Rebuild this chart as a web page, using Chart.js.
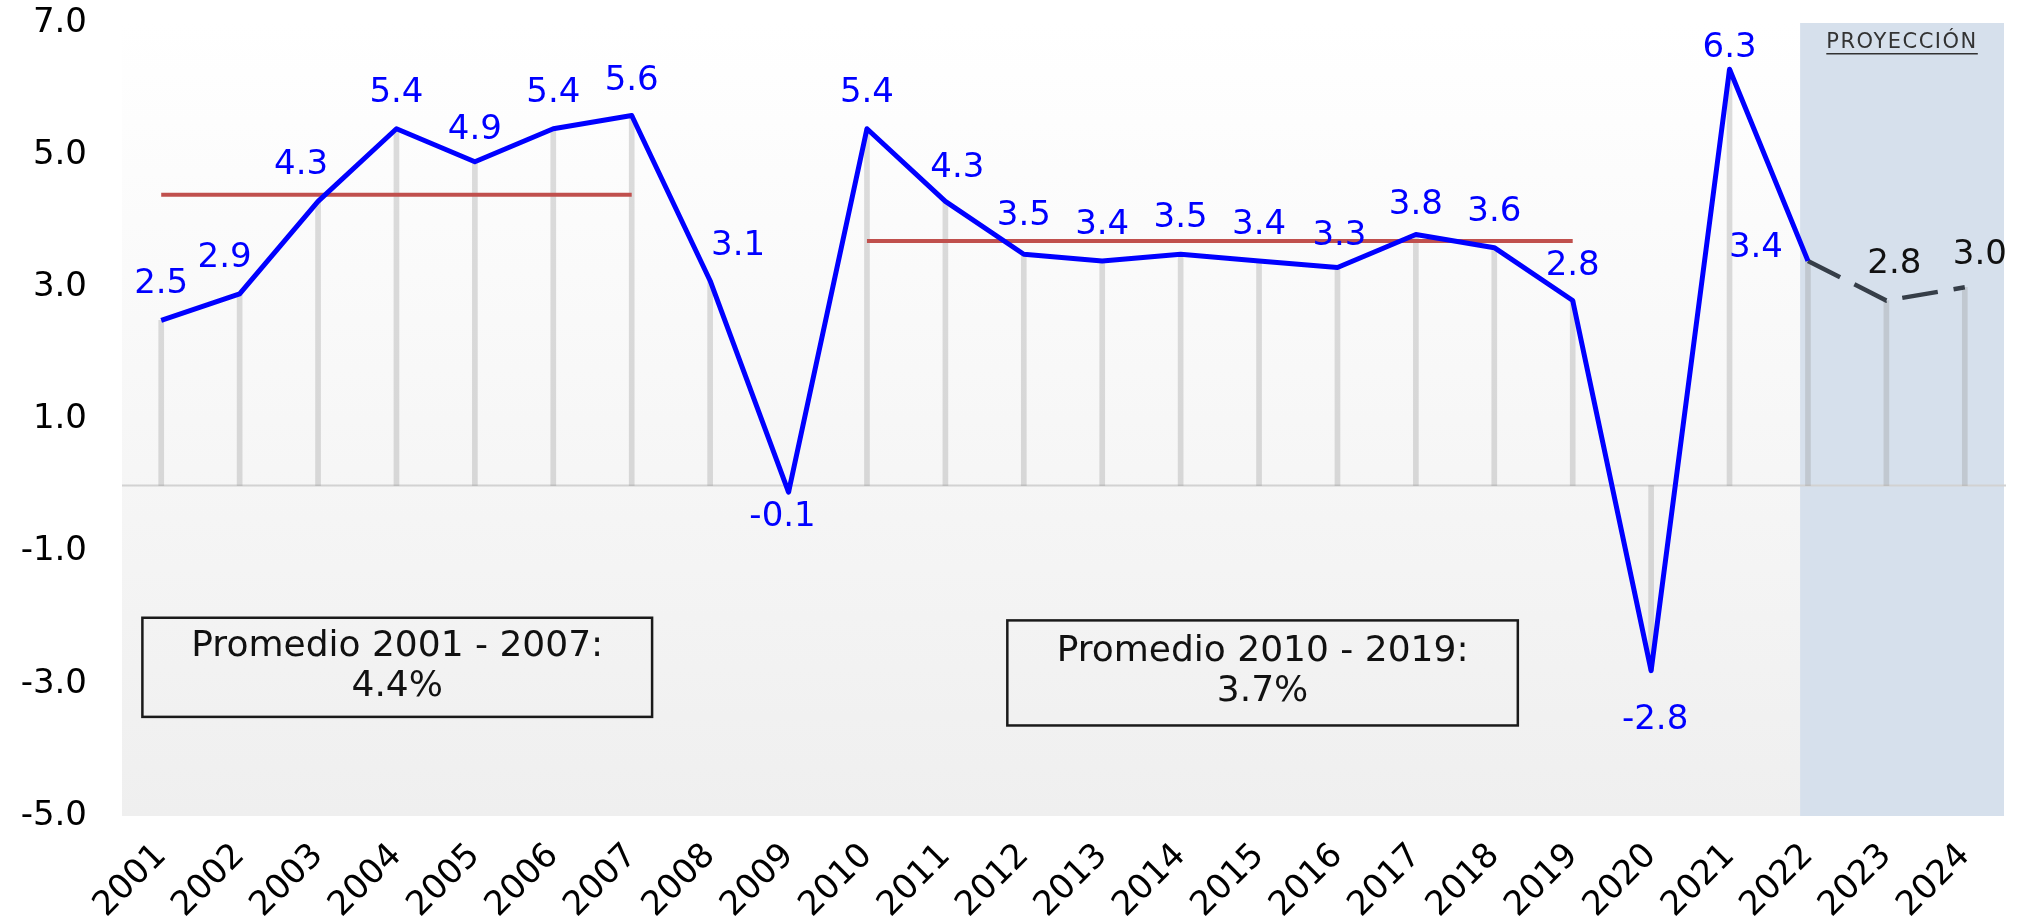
<!DOCTYPE html>
<html lang="es">
<head>
<meta charset="utf-8">
<title>Crecimiento anual</title>
<script src="https://cdn.jsdelivr.net/npm/chart.js@4.4.1/dist/chart.umd.min.js"></script>
<style>
  html, body { margin: 0; padding: 0; background: #fff; }
  #wrap { width: 2018px; height: 918px; }
</style>
</head>
<body>
<div id="wrap"><canvas id="chart" width="2018" height="918"></canvas></div>
<script>
// Data
let years = ["2001", "2002", "2003", "2004", "2005", "2006", "2007", "2008", "2009", "2010", "2011", "2012",
             "2013", "2014", "2015", "2016", "2017", "2018", "2019", "2020", "2021", "2022", "2023", "2024"];
let actual = [2.5, 2.9, 4.3, 5.4, 4.9, 5.4, 5.6, 3.1, -0.1, 5.4, 4.3, 3.5,
              3.4, 3.5, 3.4, 3.3, 3.8, 3.6, 2.8, -2.8, 6.3, 3.4, null, null];
let projection = [null, null, null, null, null, null, null, null, null, null, null, null,
                  null, null, null, null, null, null, null, null, null, 3.4, 2.8, 3.0];
let avgEarly = [4.4, 4.4, 4.4, 4.4, 4.4, 4.4, 4.4, null, null, null, null, null,
                null, null, null, null, null, null, null, null, null, null, null, null];
let avgLate = [null, null, null, null, null, null, null, null, null, 3.7, 3.7, 3.7,
               3.7, 3.7, 3.7, 3.7, 3.7, 3.7, 3.7, null, null, null, null, null];
let yTicks = [-5, -3, -1, 1, 3, 5, 7];
let boxTexts = [["Promedio 2001 - 2007:", "4.4%"], ["Promedio 2010 - 2019:", "3.7%"]];
let bandTitle = "PROYECCIÓN";

// drop lines use the actual value, or the projected one when there is none
let dropValues = actual.map((v, i) => v !== null ? v : projection[i]);

// label nudges (pixels) for the value labels, by year
let labelNudge = {
    "2002": [-15, -36], "2003": [-17, -36], "2005": [0, -32], "2007": [0, -34],
    "2008": [28, -35], "2009": [-6, 25], "2011": [12, -33], "2012": [0, -38],
    "2016": [2, -31], "2017": [0, -29], "2019": [0, -34], "2020": [4, 50],
    "2021": [0, -21], "2022": [-52, -13], "2023": [8, -36], "2024": [15, -32]
};

const FONT = "'DejaVu Sans', 'Liberation Sans', Arial, sans-serif";

const decor = {
    id: "decor",
    beforeDraw(c) {
        let ctx = c.ctx, a = c.chartArea;
        let g = ctx.createLinearGradient(0, a.top, 0, a.bottom);
        g.addColorStop(0, "#ffffff");
        g.addColorStop(1, "#efefef");
        ctx.save();
        ctx.fillStyle = g;
        ctx.fillRect(a.left, a.top, a.right - a.left, a.bottom - a.top);
        ctx.restore();
    },
    beforeDatasetsDraw(c) {
        let ctx = c.ctx, a = c.chartArea, x = c.scales.x, y = c.scales.y;
        ctx.save();
        // projection band
        let bx = x.getPixelForValue(20.9);
        ctx.fillStyle = "#d6e0ec";
        ctx.fillRect(bx, a.top, a.right - bx, a.bottom - a.top);

        // band title, underlined
        ctx.font = "21px " + FONT;
        ctx.letterSpacing = "1.5px";
        ctx.fillStyle = "#333333";
        ctx.textAlign = "center";
        ctx.textBaseline = "middle";
        let cx = (bx + a.right) / 2;
        ctx.fillText(bandTitle, cx, a.top + 20);
        let w = ctx.measureText(bandTitle).width;
        ctx.fillRect(cx - w / 2, a.top + 30, w, 1.5);
        ctx.letterSpacing = "0px";

        // zero line
        let y0 = y.getPixelForValue(0);
        ctx.strokeStyle = "#d2d2d2";
        ctx.lineWidth = 2;
        ctx.beginPath();
        ctx.moveTo(a.left, y0);
        ctx.lineTo(a.right + 2, y0);
        ctx.stroke();
        ctx.restore();
    },
    afterDatasetsDraw(c) {
        let ctx = c.ctx;
        ctx.save();
        ctx.font = "34px " + FONT;
        ctx.textAlign = "center";
        ctx.textBaseline = "middle";
        c.data.datasets.forEach((ds, di) => {
            if (!ds.labelColor) return;
            let meta = c.getDatasetMeta(di);
            ds.data.forEach((v, i) => {
                if (v === null) return;
                // 2022 label belongs to the actual series only
                if (di === 1 && i === 21) return;
                let n = labelNudge[years[i]] || [0, -36];
                let el = meta.data[i];
                ctx.fillStyle = ds.labelColor;
                ctx.fillText(v.toFixed(1), el.x + n[0], el.y + n[1]);
            });
        });
        ctx.restore();
    },
    afterDraw(c) {
        let ctx = c.ctx, x = c.scales.x, y = c.scales.y;
        // average boxes: [left index, right index, top value, bottom value]
        let spots = [[-0.24, 6.26, -2.0, -3.5], [10.79, 17.3, -2.04, -3.63]];
        ctx.save();
        spots.forEach((s, k) => {
            let l = x.getPixelForValue(s[0]), r = x.getPixelForValue(s[1]);
            let t = y.getPixelForValue(s[2]), b = y.getPixelForValue(s[3]);
            ctx.strokeStyle = "#1a1a1a";
            ctx.lineWidth = 2.5;
            ctx.strokeRect(l, t, r - l, b - t);
            ctx.fillStyle = "#111";
            ctx.font = "36px " + FONT;
            ctx.textAlign = "center";
            ctx.textBaseline = "middle";
            let mid = (t + b) / 2;
            ctx.fillText(boxTexts[k][0], (l + r) / 2, mid - 21);
            ctx.fillText(boxTexts[k][1], (l + r) / 2, mid + 19);
        });
        ctx.restore();
    }
};

let chart = new Chart(document.getElementById("chart"), {
    type: "bar",
    data: {
        labels: years,
        datasets: [
            {
                type: "line", data: actual, borderColor: "#0000ff", borderWidth: 5,
                pointRadius: 0, borderJoinStyle: "round", order: 1, labelColor: "#0000ff"
            },
            {
                type: "line", data: projection, borderColor: "#363e48", borderWidth: 4.5,
                borderDash: [36, 16], pointRadius: 0, order: 2, labelColor: "#111111"
            },
            { type: "line", data: avgEarly, borderColor: "#c0504d", borderWidth: 4, pointRadius: 0, order: 3 },
            { type: "line", data: avgLate, borderColor: "#c0504d", borderWidth: 4, pointRadius: 0, order: 3 },
            { type: "bar", data: dropValues, backgroundColor: "rgba(150,150,150,0.32)", barThickness: 5, order: 5 }
        ]
    },
    options: {
        responsive: false,
        animation: false,
        events: [],
        layout: { padding: { top: 23, right: 14, left: 0, bottom: 0 } },
        plugins: { legend: { display: false }, tooltip: { enabled: false } },
        scales: {
            x: {
                grid: { display: false, drawTicks: false },
                border: { display: false },
                ticks: {
                    autoSkip: false, minRotation: 45, maxRotation: 45, padding: 20,
                    color: "#000", font: { family: FONT, size: 34 }
                },
                afterFit(s) {
                    s.height = 102;
                    s.paddingLeft = 0;
                    s.paddingRight = 0;
                }
            },
            y: {
                min: -5, max: 7,
                afterBuildTicks(s) { s.ticks = yTicks.map(v => ({ value: v })); },
                grid: { display: false, drawTicks: false },
                border: { display: false },
                ticks: {
                    padding: 35, color: "#000", font: { family: FONT, size: 34 },
                    callback: v => v.toFixed(1)
                },
                afterFit(s) {
                    s.width = 122;
                    s.paddingTop = 0;
                    s.paddingBottom = 0;
                }
            }
        }
    },
    plugins: [decor]
});
</script>
</body>
</html>
